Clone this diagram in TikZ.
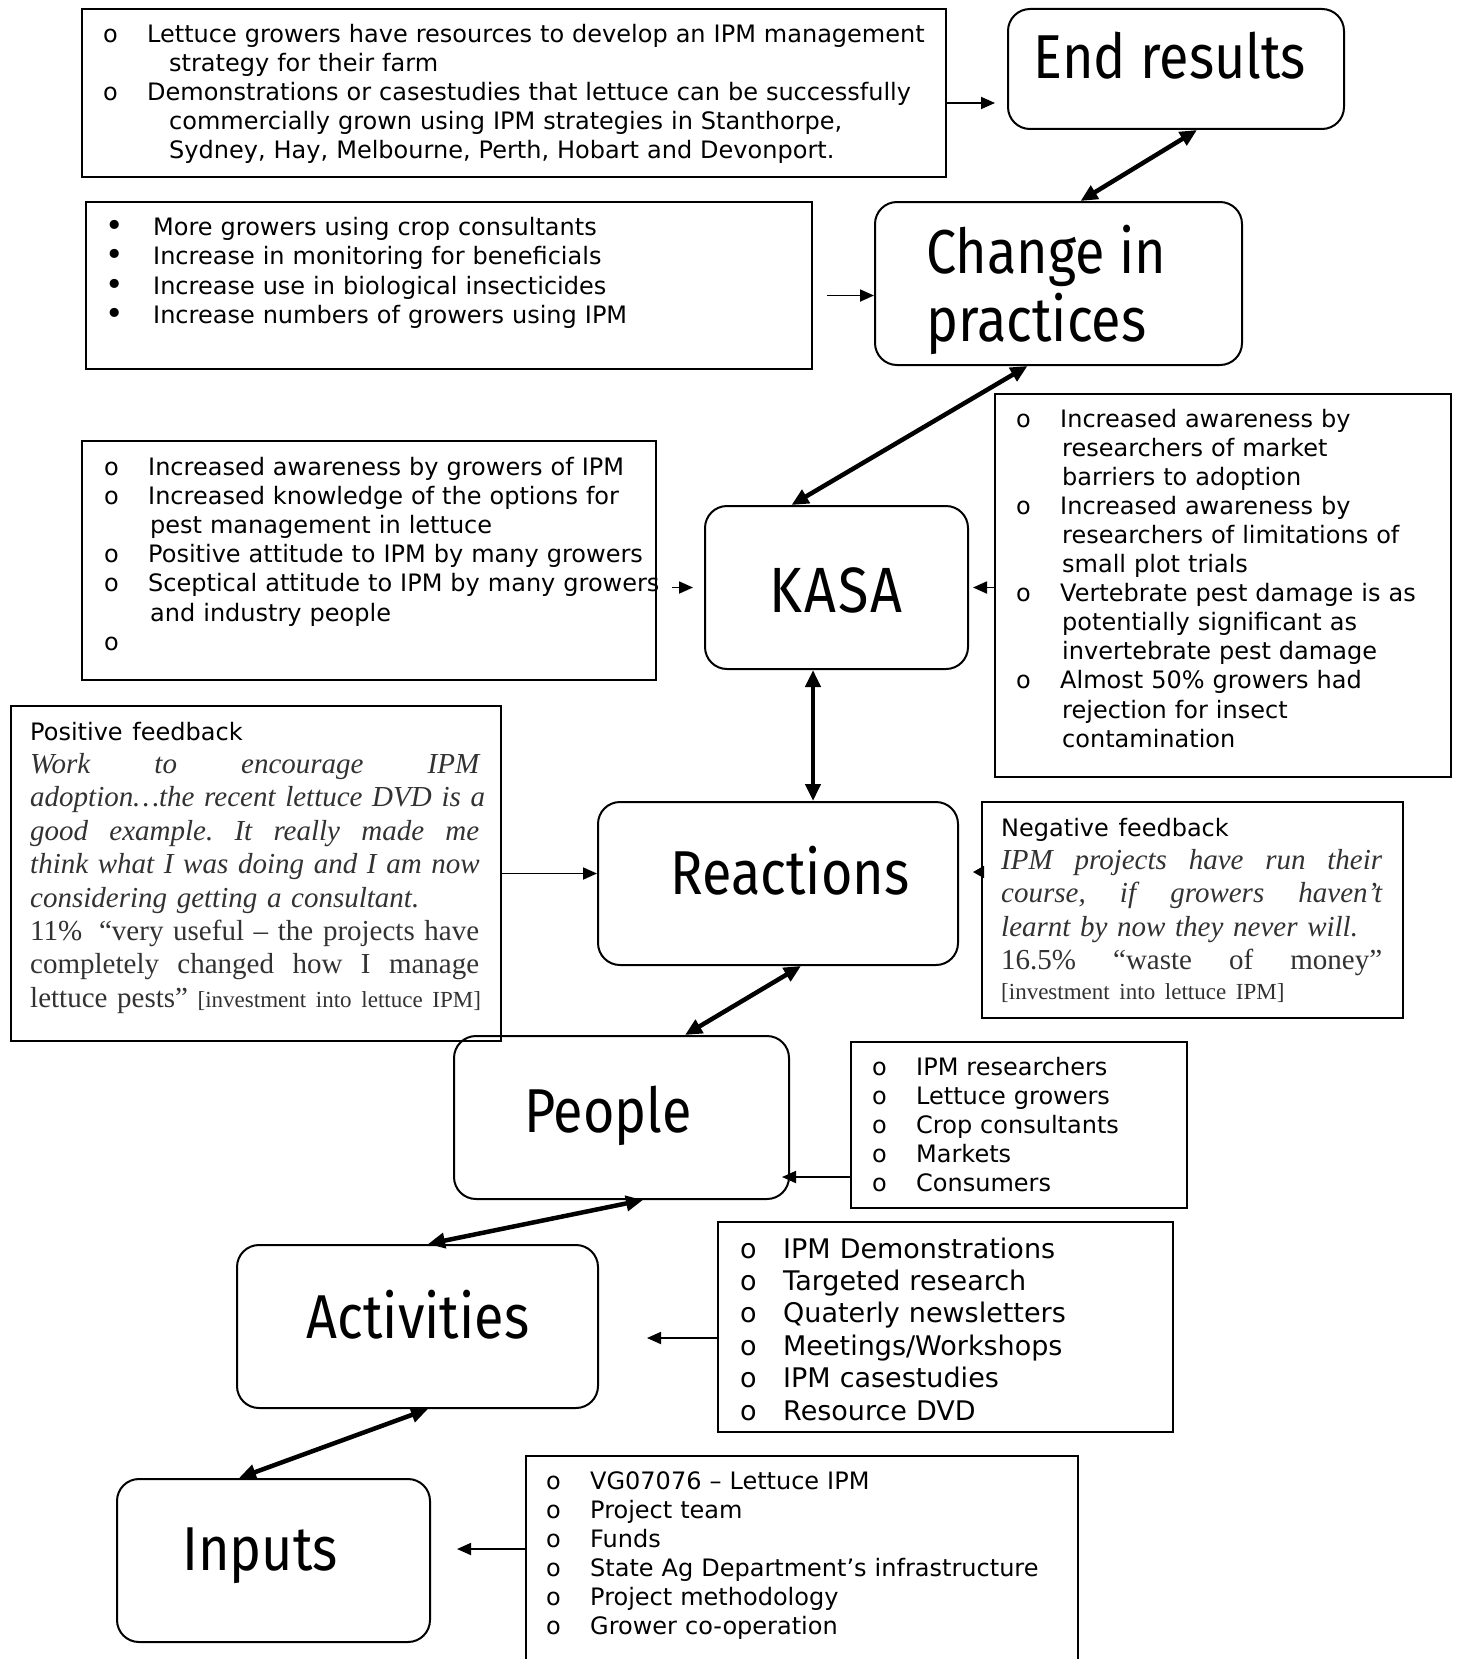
\documentclass[tikz,border=0pt]{standalone}
\usepackage{fontspec}
\setmainfont{Liberation Serif}
\newfontfamily\listfont{DejaVu Sans}
\newfontfamily\stagefont[FakeStretch=0.87]{Fira Sans}
\usetikzlibrary{arrows.meta}
\definecolor{quotegray}{RGB}{50,50,50}
% bullet list helpers: a bullet column of width \bulw, continuation lines indented by \contw
\newlength\bulw
\newlength\contw
\newlength\qw
\newcommand\bulsym{o}
\newcommand\itm[1]{\noindent\hbox to \bulw{\bulsym\hfil}#1\par}
\newcommand\cnt[1]{\noindent\hspace*{\contw}#1\par}
% a fully justified line of width \qw
\newcommand\lw[1]{\noindent\hbox to \qw{#1}\par}
\begin{document}
\begin{tikzpicture}[x=1pt,y=-1pt,
  stage/.style={draw, line width=2pt, rounded corners=22pt, anchor=north west, inner sep=0pt},
  listbox/.style={draw, line width=2pt, anchor=north west, inner sep=0pt},
  stagetitle/.style={anchor=base, inner sep=0pt, font={\stagefont\fontsize{62pt}{68pt}\selectfont}},
  listtext/.style={anchor=base west, inner sep=0pt, text width=#1,
    font={\listfont\fontsize{24pt}{29pt}\selectfont}},
  quotetext/.style={anchor=base west, inner sep=0pt, text width=#1, text=quotegray,
    font={\fontsize{29pt}{33.4pt}\selectfont}},
  thin/.style={line width=1.8pt, -{Triangle[length=14pt,width=12pt]}},
  thick/.style={line width=4.5pt, {Triangle[length=17pt,width=15pt]}-{Triangle[length=17pt,width=15pt]}}
]
\fill[white] (0,0) rectangle (1456,1659);
\useasboundingbox (0,0) rectangle (1456,1659);

% ---------- stage boxes ----------
\node[stage, minimum width=336pt, minimum height=120pt] (endr) at (1007,8) {};
\node[stage, minimum width=367pt, minimum height=163pt] (chg) at (874,201) {};
\node[stage, minimum width=263pt, minimum height=163pt] (kasa) at (704,505) {};
\node[stage, minimum width=360pt, minimum height=163pt] (react) at (597,801) {};
\node[stage, minimum width=335pt, minimum height=163pt] (people) at (453,1035) {};
\node[stage, minimum width=361pt, minimum height=163pt] (act) at (236,1244) {};
\node[stage, minimum width=313pt, minimum height=163pt] (inp) at (116,1478) {};

\node[stagetitle] (endr-t) at (1170,79) {End results};
\node[stagetitle, anchor=base west] (chg-t1) at (926,273) {Change in};
\node[stagetitle, anchor=base west] (chg-t2) at (926,341) {practices};
\node[stagetitle, font={\stagefont\fontsize{64pt}{68pt}\selectfont}] (kasa-t) at (836,612) {K\kern2pt A\kern2pt S\kern2pt A};
\node[stagetitle] (react-t) at (790,894) {Reactions};
\node[stagetitle] (people-t) at (608,1132) {People};
\node[stagetitle] (act-t) at (418,1338) {Activities};
\node[stagetitle] (inp-t) at (260,1570) {Inputs};

% ---------- text boxes ----------
\node[listbox, minimum width=864pt, minimum height=168pt] (ra) at (81,8) {};
\node[listbox, minimum width=726pt, minimum height=167pt] (rb) at (85,201) {};
\node[listbox, minimum width=574pt, minimum height=239pt] (rc) at (81,440) {};
\node[listbox, minimum width=456pt, minimum height=383pt] (rd) at (994,393) {};
\node[listbox, minimum width=490pt, minimum height=335pt] (pos) at (10,705) {};
\node[listbox, minimum width=421pt, minimum height=216pt] (neg) at (981,801) {};
\node[listbox, minimum width=336pt, minimum height=166pt] (plist) at (850,1041) {};
\node[listbox, minimum width=455pt, minimum height=210pt] (alist) at (717,1221) {};
\node[listbox, minimum width=552pt, minimum height=225pt] (ilist) at (525,1455) {};

\node[listtext=830pt] (ra-t) at (103,43) {\setlength\bulw{44pt}\setlength\contw{66pt}%
\itm{Lettuce growers have resources to develop an IPM management}
\cnt{strategy for their farm}
\itm{Demonstrations or casestudies that lettuce can be successfully}
\cnt{commercially grown using IPM strategies in Stanthorpe,}
\cnt{Sydney, Hay, Melbourne, Perth, Hobart and Devonport.}};

\node[listtext=700pt, font={\listfont\fontsize{24pt}{29.6pt}\selectfont}] (rb-t) at (105,235) {\setlength\bulw{48pt}\renewcommand\bulsym{\raisebox{-1pt}{\scalebox{1.3}{•}}}%
\itm{More growers using crop consultants}
\itm{Increase in monitoring for beneficials}
\itm{Increase use in biological insecticides}
\itm{Increase numbers of growers using IPM}};

\node[listtext=600pt, font={\listfont\fontsize{24pt}{29.2pt}\selectfont}] (rc-t) at (104,475) {\setlength\bulw{44pt}\setlength\contw{46pt}%
\itm{Increased awareness by growers of IPM}
\itm{Increased knowledge of the options for}
\cnt{pest management in lettuce}
\itm{Positive attitude to IPM by many growers}
\itm{Sceptical attitude to IPM by many growers}
\cnt{and industry people}
\itm{}};

\node[listtext=430pt, font={\listfont\fontsize{24pt}{29.1pt}\selectfont}] (rd-t) at (1016,427) {\setlength\bulw{44pt}\setlength\contw{46pt}%
\itm{Increased awareness by}
\cnt{researchers of market}
\cnt{barriers to adoption}
\itm{Increased awareness by}
\cnt{researchers of limitations of}
\cnt{small plot trials}
\itm{Vertebrate pest damage is as}
\cnt{potentially significant as}
\cnt{invertebrate pest damage}
\itm{Almost 50\% growers had}
\cnt{rejection for insect}
\cnt{contamination}};

\node[quotetext=449pt] (pos-t) at (30,740) {\setlength\qw{449pt}%
{\listfont\fontsize{24pt}{33.4pt}\selectfont\color{black}Positive feedback\par}
\lw{\itshape Work\hfil to\hfil encourage\hfil IPM}
\lw{\itshape adoption…the recent lettuce DVD is a}
\lw{\itshape good\hfil example.\hfil It\hfil really\hfil made\hfil me}
\lw{\itshape think what I was doing and I am now}
\noindent{\itshape considering getting a consultant.}\par
\lw{11\%\hfil“very useful – the projects have}
\lw{completely\hfil changed\hfil how\hfil I\hfil manage}
\noindent\hbox{lettuce pests” {\fontsize{23pt}{33.4pt}\selectfont [investment into lettuce IPM]}}\par};

\node[quotetext=381pt] (neg-t) at (1001,836) {\setlength\qw{381pt}%
{\listfont\fontsize{24pt}{33.4pt}\selectfont\color{black}Negative feedback\par}
\lw{\itshape IPM\hfil projects\hfil have\hfil run\hfil their}
\lw{\itshape course,\hfil if\hfil growers\hfil haven’t}
\noindent{\itshape learnt by now they never will.}\par
\lw{16.5\%\hfil“waste\hfil of\hfil money”}
{\fontsize{23pt}{29.5pt}\selectfont [investment into lettuce IPM]\par}};

\node[listtext=320pt, font={\listfont\fontsize{24pt}{29.1pt}\selectfont}] (plist-t) at (872,1075) {\setlength\bulw{44pt}%
\itm{IPM researchers}
\itm{Lettuce growers}
\itm{Crop consultants}
\itm{Markets}
\itm{Consumers}};

\node[listtext=440pt, font={\listfont\fontsize{27pt}{32.4pt}\selectfont}] (alist-t) at (740,1258) {\setlength\bulw{43pt}%
\itm{IPM Demonstrations}
\itm{Targeted research}
\itm{Quaterly newsletters}
\itm{Meetings/Workshops}
\itm{IPM casestudies}
\itm{Resource DVD}};

\node[listtext=520pt] (ilist-t) at (546,1489) {\setlength\bulw{44pt}%
\itm{VG07076 – Lettuce IPM}
\itm{Project team}
\itm{Funds}
\itm{State Ag Department’s infrastructure}
\itm{Project methodology}
\itm{Grower co-operation}};

% ---------- connectors ----------
\draw[thin, shorten >=12pt] ([yshift=-10pt]ra.east) -- ([yshift=-10pt]ra.east -| endr.west);
\draw[thick] ([xshift=21pt]endr.south) -- ([xshift=22pt]chg.north);
\draw[thin, shorten <=14pt] ([yshift=-10pt]rb.east) -- ([yshift=-10pt]rb.east -| chg.west);
\draw[thick] ([xshift=-31pt]chg.south) -- ([xshift=-45pt]kasa.north);
\draw[thin, shorten <=15pt, shorten >=11pt] (rc.east |- kasa.west) -- (kasa.west);
\draw[thin, shorten >=4pt] (rd.west |- kasa.east) -- (kasa.east);
\draw[thick] ([xshift=-23.5pt]kasa.south) -- ([xshift=-23.5pt]kasa.south |- react.north);
\draw[thin] (pos.east) -- (pos.east -| react.west);
\draw[line width=1.8pt, -{Triangle[length=11pt,width=12pt]}, shorten >=14pt] ([yshift=38pt]neg.west) -- ([yshift=38pt]neg.west -| react.east);
\draw[thick] ([xshift=23pt]react.south) -- ([xshift=63.5pt]people.north);
\draw[thin, shorten >=-8pt] ([yshift=-52pt]plist.west) -- ([yshift=-52pt]plist.west -| people.east);
\draw[thick] ([xshift=21.5pt]people.south) -- ([xshift=10.5pt]act.north);
\draw[thin, shorten >=48pt] ([yshift=-11pt]alist.west) -- ([yshift=-11pt]alist.west -| act.east);
\draw[thick] ([xshift=10.5pt]act.south) -- ([xshift=-34.5pt]inp.north);
\draw[thin, shorten >=26pt] ([yshift=19.5pt]ilist.west) -- ([yshift=19.5pt]ilist.west -| inp.east);
\end{tikzpicture}
\end{document}
